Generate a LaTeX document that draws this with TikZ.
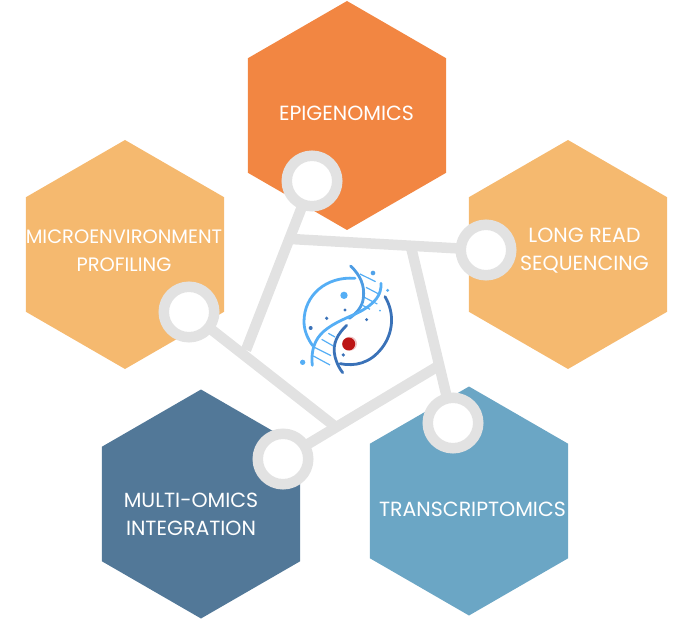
\documentclass[tikz,border=0pt]{standalone}
\usepackage{fontspec}
\setmainfont{Poppins}
\usetikzlibrary{shapes.geometric}
\definecolor{epiorange}{HTML}{F28642}
\definecolor{peach}{HTML}{F5B96F}
\definecolor{darkteal}{HTML}{527898}
\definecolor{lightteal}{HTML}{6BA6C5}
\definecolor{ringgray}{HTML}{E2E2E2}
\definecolor{logolight}{HTML}{55AEF5}
\definecolor{logodark}{HTML}{3A72B8}
\definecolor{logored}{HTML}{BC1414}
\begin{document}
\begin{tikzpicture}[
	x=1pt, y=-1pt,
	hexa/.style={regular polygon, regular polygon sides=6, shape border rotate=30, minimum size=229pt, inner sep=0pt, outer sep=0pt},
	ring/.style={circle, draw=ringgray, fill=white, line width=10.5pt, minimum size=50.5pt, inner sep=0pt},
	label/.style={text=white, align=center, font=\fontsize{20.5}{28}\selectfont},
	link/.style={draw=ringgray, line width=10.5pt},
	logoarc/.style={line width=2.8pt, line cap=round},
	rung/.style={line width=1.2pt, logolight},
	]
	\useasboundingbox (0,0) rectangle (693,620);
	
	%hexagons
	\node[hexa, fill=epiorange] (epi) at (347,115.5) {};
	\node[hexa, fill=peach] (micro) at (125,254.5) {};
	\node[hexa, fill=peach] (longread) at (568,254.5) {};
	\node[hexa, fill=darkteal] (multi) at (201,504) {};
	\node[hexa, fill=lightteal] (trans) at (469,501) {};
	
	%labels
	\node[label] (epilabel) at (346.5,113.5) {EPIGENOMICS};
	\node[label, font=\fontsize{19.4}{28}\selectfont] (microlabel) at (124,251) {MICROENVIRONMENT\\PROFILING};
	\node[label] (longlabel) at (584.5,251) {LONG READ\\SEQUENCING};
	\node[label] (multilabel) at (191,514) {MULTI-OMICS\\INTEGRATION};
	\node[label] (translabel) at (472.5,509.5) {TRANSCRIPTOMICS};
	
	%free ends of the links
	\coordinate (epiend) at (246,350);
	\coordinate (microend) at (337,428);
	\coordinate (longend) at (291,239);
	\coordinate (transend) at (411,247);
	\coordinate (multiend) at (440,365);
	\coordinate (ringepi) at (312,181);
	\coordinate (ringmicro) at (189,312);
	\coordinate (ringlong) at (486,250);
	\coordinate (ringtrans) at (453,423);
	\coordinate (ringmulti) at (283,459);
	
	%links
	\draw[link] (ringepi) -- (epiend);
	\draw[link] (ringmicro) -- (microend);
	\draw[link] (ringlong) -- (longend);
	\draw[link] (ringtrans) -- (transend);
	\draw[link] (ringmulti) -- (multiend);
	
	%rings
	\node[ring] (circepi) at (ringepi) {};
	\node[ring] (circmicro) at (ringmicro) {};
	\node[ring] (circlong) at (ringlong) {};
	\node[ring] (circtrans) at (ringtrans) {};
	\node[ring] (circmulti) at (ringmulti) {};
	
	%logo
	\begin{scope}[shift={(280,250)}, x=0.3333pt, y=-0.3333pt]
		\draw[logoarc, logolight] (225,85) .. controls (140,78) and (72,135) .. (72,215) .. controls (72,240) and (82,265) .. (98,287);
		\draw[logoarc, logodark] (315,140) .. controls (345,190) and (340,250) .. (305,295) .. controls (270,340) and (225,350) .. (180,341);
		%strands
		\draw[logoarc, logolight!70!logodark] (212,48) .. controls (240,75) and (255,105) .. (250,145) .. controls (247,170) and (230,190) .. (208,205);
		\draw[logoarc, logodark] (200,226) .. controls (175,250) and (155,280) .. (165,320) .. controls (170,340) and (178,355) .. (188,368);
		\draw[logoarc, logolight] (303,100) .. controls (305,135) and (285,160) .. (240,185) .. controls (205,203) and (165,215) .. (130,245) .. controls (105,268) and (92,300) .. (97,346);
		%rungs
		\draw[rung] (240,72) -- (287,95);
		\draw[rung] (258,112) -- (300,134);
		\draw[rung] (255,143) -- (292,162);
		\draw[rung] (246,165) -- (270,178);
		\draw[rung] (145,250) -- (165,261);
		\draw[rung] (125,268) -- (160,288);
		\draw[rung] (105,293) -- (153,317);
		\draw[rung] (100,318) -- (150,345);
		%dots
		\fill[logolight!80!logodark] (279,69) circle (7);
		\fill[logolight] (323,121) circle (5);
		\fill[logolight] (192,136) circle (11);
		\fill[logodark] (195,180) circle (5);
		\fill[logodark] (140,205) circle (5.5);
		\fill[logodark] (92,234) circle (6);
		\fill[logolight] (68,337) circle (8);
		\fill[logodark] (260,209) circle (5);
		\fill[logolight] (300,182) circle (3);
		\fill[logodark] (190,315) circle (5.5);
		\fill[logored!25] (210,281) circle (21);
		\fill[logored] (206,282) circle (19.5);
	\end{scope}
\end{tikzpicture}
\end{document}
